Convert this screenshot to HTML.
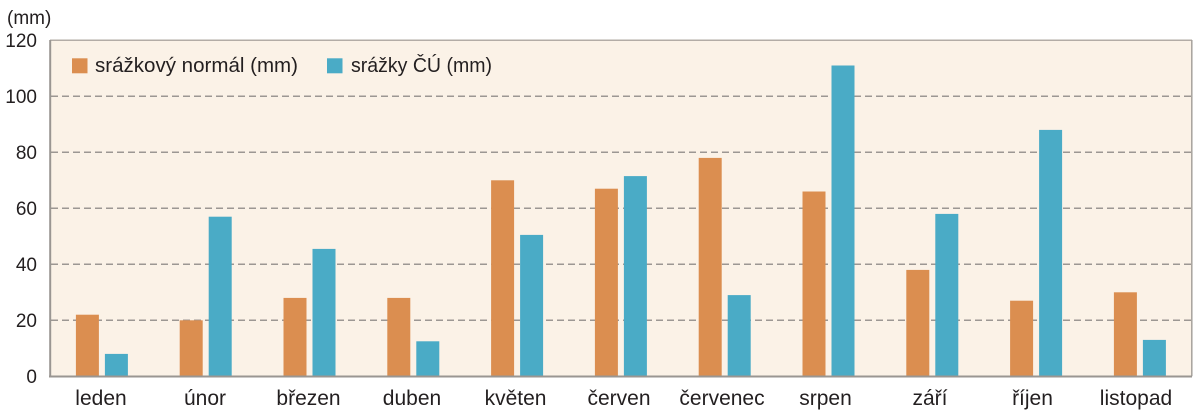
<!DOCTYPE html>
<html>
<head>
<meta charset="utf-8">
<style>
  html,body{margin:0;padding:0;background:#ffffff;}
  svg{display:block;}
  text{font-family:"Liberation Sans","DejaVu Sans",sans-serif;fill:#231f20;}
</style>
</head>
<body>
<svg width="1200" height="417" viewBox="0 0 1200 417" xmlns="http://www.w3.org/2000/svg">
  <!-- plot background -->
  <rect x="50" y="40" width="1142" height="336.3" fill="#fbf2e7"/>

  <!-- gridlines -->
  <g stroke="#9c9793" stroke-width="1.5" stroke-dasharray="7 4" fill="none">
    <line x1="51" y1="96.3" x2="1191" y2="96.3"/>
    <line x1="51" y1="152.3" x2="1191" y2="152.3"/>
    <line x1="51" y1="208.3" x2="1191" y2="208.3"/>
    <line x1="51" y1="264.3" x2="1191" y2="264.3"/>
    <line x1="51" y1="320.3" x2="1191" y2="320.3"/>
  </g>

  <!-- bars -->
  <g fill="#db8e50">
    <rect x="75.9" y="314.7" width="23" height="61.6"/>
    <rect x="179.7" y="320.3" width="23" height="56"/>
    <rect x="283.5" y="297.9" width="23" height="78.4"/>
    <rect x="387.3" y="297.9" width="23" height="78.4"/>
    <rect x="491.1" y="180.3" width="23" height="196"/>
    <rect x="594.9" y="188.7" width="23" height="187.6"/>
    <rect x="698.7" y="157.9" width="23" height="218.4"/>
    <rect x="802.5" y="191.5" width="23" height="184.8"/>
    <rect x="906.3" y="269.9" width="23" height="106.4"/>
    <rect x="1010.1" y="300.7" width="23" height="75.6"/>
    <rect x="1113.9" y="292.3" width="23" height="84"/>
  </g>
  <g fill="#4aabc6">
    <rect x="104.9" y="353.9" width="23" height="22.4"/>
    <rect x="208.7" y="216.7" width="23" height="159.6"/>
    <rect x="312.5" y="248.9" width="23" height="127.4"/>
    <rect x="416.3" y="341.3" width="23" height="35"/>
    <rect x="520.1" y="234.9" width="23" height="141.4"/>
    <rect x="623.9" y="176.1" width="23" height="200.2"/>
    <rect x="727.7" y="295.1" width="23" height="81.2"/>
    <rect x="831.5" y="65.5" width="23" height="310.8"/>
    <rect x="935.3" y="213.9" width="23" height="162.4"/>
    <rect x="1039.1" y="129.9" width="23" height="246.4"/>
    <rect x="1142.9" y="339.9" width="23" height="36.4"/>
  </g>

  <!-- frame -->
  <g fill="none" stroke-width="1.5">
    <line x1="50" y1="40.3" x2="1192" y2="40.3" stroke="#b3aca6"/>
    <line x1="1191.8" y1="40" x2="1191.8" y2="376.3" stroke="#a7a29d"/>
    <line x1="50.2" y1="40" x2="50.2" y2="377" stroke="#9a9692" stroke-width="2"/>
    <line x1="49" y1="376.5" x2="1192" y2="376.5" stroke="#9a9692" stroke-width="2"/>
  </g>

  <!-- y axis labels -->
  <g font-size="19" text-anchor="end">
    <text x="37" y="47">120</text>
    <text x="37" y="103">100</text>
    <text x="37" y="159">80</text>
    <text x="37" y="215">60</text>
    <text x="37" y="271">40</text>
    <text x="37" y="327">20</text>
    <text x="37" y="383">0</text>
  </g>
  <text x="7" y="24" font-size="19">(mm)</text>

  <!-- legend -->
  <rect x="72" y="58.3" width="15.5" height="15" fill="#db8e50"/>
  <text x="95" y="72" font-size="20" textLength="203" lengthAdjust="spacingAndGlyphs">srážkový normál (mm)</text>
  <rect x="327" y="58.3" width="15.5" height="15" fill="#4aabc6"/>
  <text x="351" y="72" font-size="20" textLength="141" lengthAdjust="spacingAndGlyphs">srážky ČÚ (mm)</text>

  <!-- category labels -->
  <g font-size="21" text-anchor="middle">
    <text x="101" y="405">leden</text>
    <text x="205" y="405">únor</text>
    <text x="308.5" y="405">březen</text>
    <text x="412" y="405">duben</text>
    <text x="515.5" y="405">květen</text>
    <text x="619" y="405">červen</text>
    <text x="722" y="405">červenec</text>
    <text x="825.5" y="405">srpen</text>
    <text x="930" y="405">září</text>
    <text x="1032.5" y="405">říjen</text>
    <text x="1136" y="405">listopad</text>
  </g>
</svg>
</body>
</html>
